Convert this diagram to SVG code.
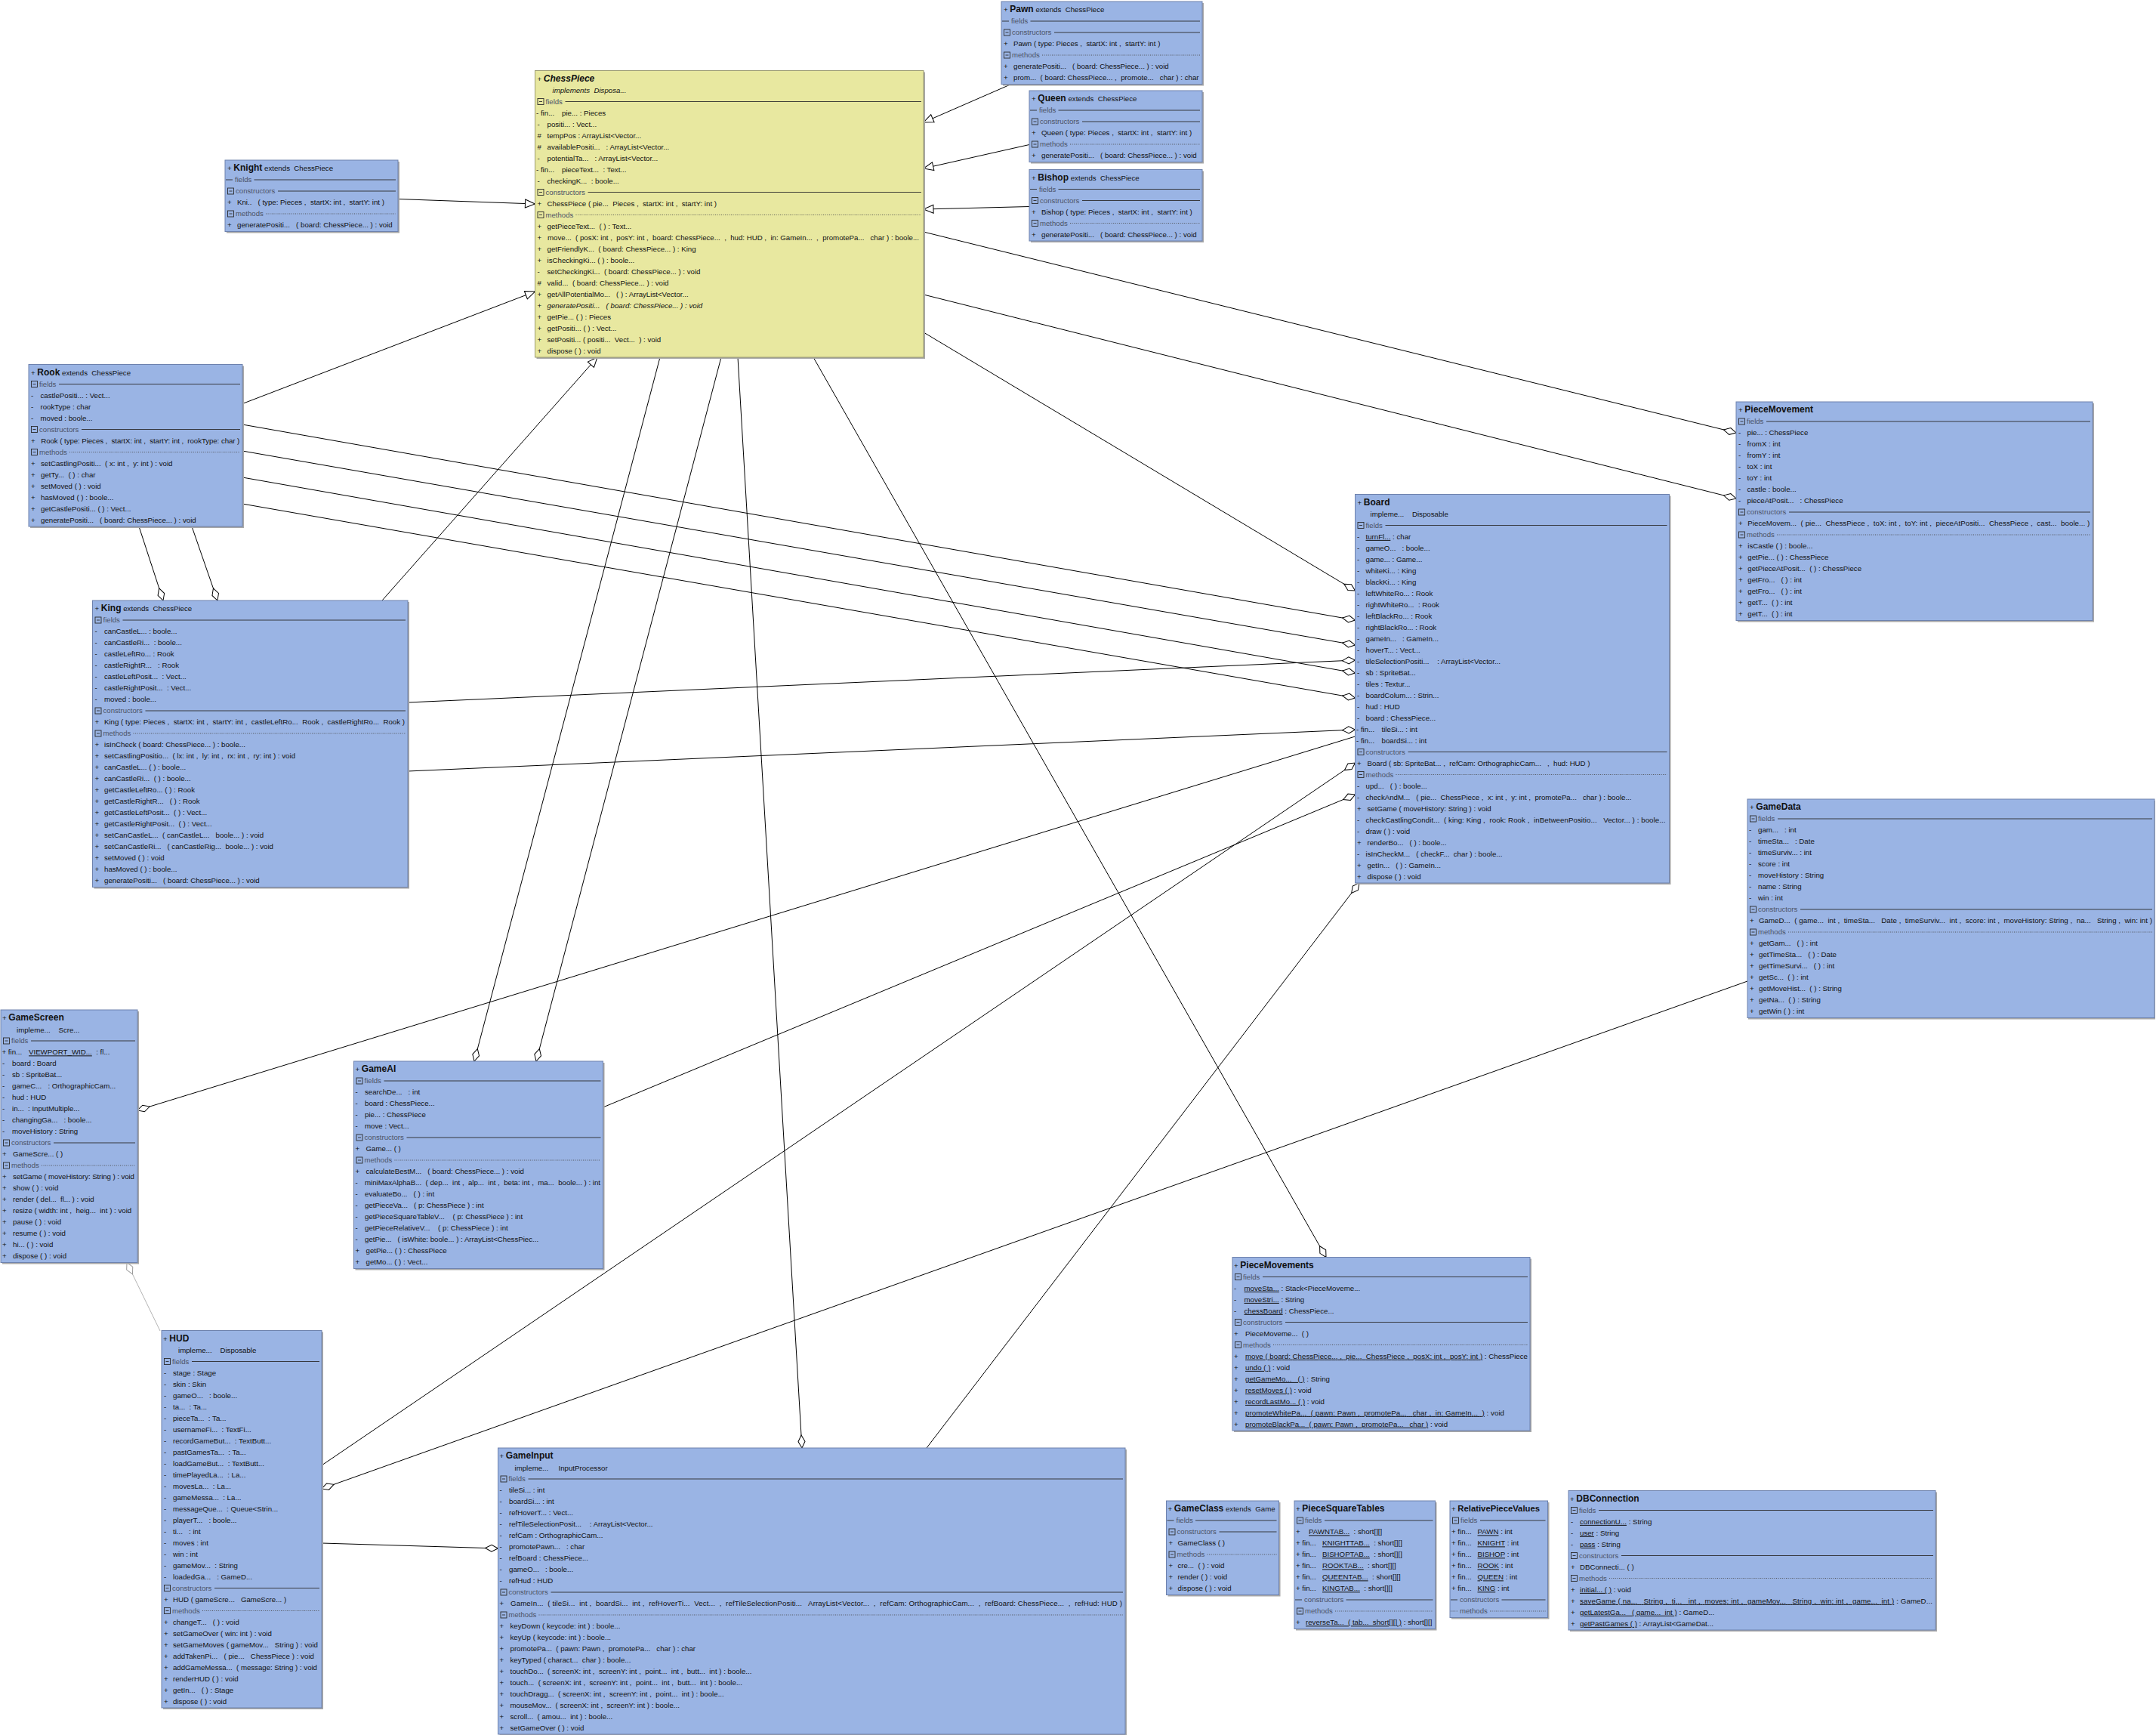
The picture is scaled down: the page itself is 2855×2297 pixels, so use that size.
<svg xmlns="http://www.w3.org/2000/svg" width="2855" height="2297" viewBox="0 0 2855 2297" xml:space="preserve">
<defs>
<style>
.t{font-family:"Liberation Sans",Arial,sans-serif;font-size:9.7px;fill:#111;white-space:pre}
.ttl{font-size:12px;font-weight:bold}
.hd{font-family:"Liberation Sans",Arial,sans-serif;font-size:9.6px;fill:#4c5366;white-space:pre}
.hl{stroke:#2b2b2b;stroke-width:0.9}
.dl{stroke:#4a4a4a;stroke-width:0.9;stroke-dasharray:1 1.6}
.ic{fill:none;stroke:#2b2b2b;stroke-width:0.9}
.box{fill:#9ab4e4;stroke:#6e82ad;stroke-width:1}
.boxy{fill:#e8e8a0;stroke:#9a9a70;stroke-width:1}
.sh{fill:#a8a8a8}
.u{text-decoration:underline}
.i{font-style:italic}
.c{fill:none;stroke:#000;stroke-width:1}
.cg{fill:none;stroke:#b4b4b4;stroke-width:1}
</style>
<g id="ico"><rect class="ic" x="3.5" y="-4" width="8" height="8"/><line class="hl" x1="5.5" y1="0" x2="9.5" y2="0"/></g>
<marker id="tri" markerUnits="userSpaceOnUse" markerWidth="16" markerHeight="14" refX="14" refY="7" orient="auto"><path d="M1,1.5 L14,7 L1,12.5 Z" fill="#fff" stroke="#000" stroke-width="1"/></marker>
<marker id="dia" markerUnits="userSpaceOnUse" markerWidth="20" markerHeight="12" refX="18" refY="6" orient="auto"><path d="M1,6 L9.5,1.5 L18,6 L9.5,10.5 Z" fill="#fff" stroke="#000" stroke-width="1"/></marker>
<marker id="diag" markerUnits="userSpaceOnUse" markerWidth="20" markerHeight="12" refX="18" refY="6" orient="auto"><path d="M1,6 L9.5,1.5 L18,6 L9.5,10.5 Z" fill="#fff" stroke="#999" stroke-width="1"/></marker>
</defs>
<rect width="2855" height="2297" fill="#fff"/>
<g id="connectors">
<line class="c" x1="1340" y1="111" x2="1223" y2="162" marker-end="url(#tri)"/>
<line class="c" x1="1363" y1="191.5" x2="1223" y2="223" marker-end="url(#tri)"/>
<line class="c" x1="1363" y1="273.5" x2="1223" y2="277" marker-end="url(#tri)"/>
<line class="c" x1="527" y1="263.5" x2="708.5" y2="270" marker-end="url(#tri)"/>
<line class="c" x1="321" y1="534.5" x2="708.5" y2="386" marker-end="url(#tri)"/>
<line class="c" x1="506" y1="795" x2="791" y2="473" marker-end="url(#tri)"/>
<line class="c" x1="1223" y1="307" x2="2299" y2="573" marker-end="url(#dia)"/>
<line class="c" x1="1223" y1="390" x2="2299" y2="660" marker-end="url(#dia)"/>
<line class="c" x1="1223" y1="440" x2="1794.5" y2="782" marker-end="url(#dia)"/>
<line class="c" x1="874" y1="473" x2="628" y2="1405" marker-end="url(#dia)"/>
<line class="c" x1="955" y1="473" x2="710" y2="1405" marker-end="url(#dia)"/>
<line class="c" x1="977" y1="473" x2="1062" y2="1917" marker-end="url(#dia)"/>
<line class="c" x1="1077" y1="473" x2="1756" y2="1664.5" marker-end="url(#dia)"/>
<line class="c" x1="321" y1="562" x2="1794.5" y2="821" marker-end="url(#dia)"/>
<line class="c" x1="321" y1="597" x2="1794.5" y2="854" marker-end="url(#dia)"/>
<line class="c" x1="321" y1="632" x2="1794.5" y2="891" marker-end="url(#dia)"/>
<line class="c" x1="321" y1="667" x2="1794.5" y2="924" marker-end="url(#dia)"/>
<line class="c" x1="540" y1="930" x2="1794.5" y2="874" marker-end="url(#dia)"/>
<line class="c" x1="540" y1="1021" x2="1794.5" y2="966" marker-end="url(#dia)"/>
<line class="c" x1="184" y1="697" x2="216" y2="795" marker-end="url(#dia)"/>
<line class="c" x1="254" y1="697" x2="288" y2="795" marker-end="url(#dia)"/>
<line class="c" x1="1794.5" y1="975" x2="182" y2="1470" marker-end="url(#dia)"/>
<line class="c" x1="798.5" y1="1466" x2="1794.5" y2="1052" marker-end="url(#dia)"/>
<line class="c" x1="426" y1="1940" x2="1794.5" y2="1010" marker-end="url(#dia)"/>
<line class="c" x1="1227" y1="1917" x2="1800" y2="1169" marker-end="url(#dia)"/>
<line class="c" x1="2314" y1="1299" x2="426" y2="1971" marker-end="url(#dia)"/>
<line class="c" x1="426" y1="2043" x2="659.5" y2="2050" marker-end="url(#dia)"/>
<line class="cg" x1="212" y1="1762" x2="168" y2="1671.5" marker-end="url(#diag)"/>
</g>

<g id="Pawn" transform="translate(1326,2)">
<rect class="sh" x="2" y="2" width="266" height="109.5"/><rect class="box" width="266" height="109.5"/>
<text class="t" x="3" y="14.3">+ <tspan class="ttl">Pawn</tspan> extends  ChessPiece</text>
<line class="hl" x1="1" y1="26" x2="10" y2="26"/><text class="hd" x="13" y="29.3">fields</text><line class="hl" x1="38.5" y1="26" x2="263" y2="26"/>
<use href="#ico" y="41"/><text class="hd" x="14" y="44.3">constructors</text><line class="hl" x1="70" y1="41" x2="263" y2="41"/>
<text class="t" x="3" y="59.4">+<tspan x="16">Pawn ( type: Pieces ,  startX: int ,  startY: int )</tspan></text>
<use href="#ico" y="71"/><text class="hd" x="14" y="74.3">methods</text><line class="dl" x1="54" y1="71" x2="263" y2="71"/>
<text class="t" x="3" y="89.4">+<tspan x="16">generatePositi...   ( board: ChessPiece... ) : void</tspan></text>
<text class="t" x="3" y="104.4">+<tspan x="16">prom...  ( board: ChessPiece... ,  promote...   char ) : char</tspan></text>
</g>

<g id="Queen" transform="translate(1363,120)">
<rect class="sh" x="2" y="2" width="229" height="94.5"/><rect class="box" width="229" height="94.5"/>
<text class="t" x="3" y="14.3">+ <tspan class="ttl">Queen</tspan> extends  ChessPiece</text>
<line class="hl" x1="1" y1="26" x2="10" y2="26"/><text class="hd" x="13" y="29.3">fields</text><line class="hl" x1="38.5" y1="26" x2="226" y2="26"/>
<use href="#ico" y="41"/><text class="hd" x="14" y="44.3">constructors</text><line class="hl" x1="70" y1="41" x2="226" y2="41"/>
<text class="t" x="3" y="59.4">+<tspan x="16">Queen ( type: Pieces ,  startX: int ,  startY: int )</tspan></text>
<use href="#ico" y="71"/><text class="hd" x="14" y="74.3">methods</text><line class="dl" x1="54" y1="71" x2="226" y2="71"/>
<text class="t" x="3" y="89.4">+<tspan x="16">generatePositi...   ( board: ChessPiece... ) : void</tspan></text>
</g>

<g id="Bishop" transform="translate(1363,224.5)">
<rect class="sh" x="2" y="2" width="229" height="94.5"/><rect class="box" width="229" height="94.5"/>
<text class="t" x="3" y="14.3">+ <tspan class="ttl">Bishop</tspan> extends  ChessPiece</text>
<line class="hl" x1="1" y1="26" x2="10" y2="26"/><text class="hd" x="13" y="29.3">fields</text><line class="hl" x1="38.5" y1="26" x2="226" y2="26"/>
<use href="#ico" y="41"/><text class="hd" x="14" y="44.3">constructors</text><line class="hl" x1="70" y1="41" x2="226" y2="41"/>
<text class="t" x="3" y="59.4">+<tspan x="16">Bishop ( type: Pieces ,  startX: int ,  startY: int )</tspan></text>
<use href="#ico" y="71"/><text class="hd" x="14" y="74.3">methods</text><line class="dl" x1="54" y1="71" x2="226" y2="71"/>
<text class="t" x="3" y="89.4">+<tspan x="16">generatePositi...   ( board: ChessPiece... ) : void</tspan></text>
</g>

<g id="Knight" transform="translate(298,212)">
<rect class="sh" x="2" y="2" width="229" height="94.5"/><rect class="box" width="229" height="94.5"/>
<text class="t" x="3" y="14.3">+ <tspan class="ttl">Knight</tspan> extends  ChessPiece</text>
<line class="hl" x1="1" y1="26" x2="10" y2="26"/><text class="hd" x="13" y="29.3">fields</text><line class="hl" x1="38.5" y1="26" x2="226" y2="26"/>
<use href="#ico" y="41"/><text class="hd" x="14" y="44.3">constructors</text><line class="hl" x1="70" y1="41" x2="226" y2="41"/>
<text class="t" x="3" y="59.4">+<tspan x="16">Kni..   ( type: Pieces ,  startX: int ,  startY: int )</tspan></text>
<use href="#ico" y="71"/><text class="hd" x="14" y="74.3">methods</text><line class="dl" x1="54" y1="71" x2="226" y2="71"/>
<text class="t" x="3" y="89.4">+<tspan x="16">generatePositi...   ( board: ChessPiece... ) : void</tspan></text>
</g>

<g id="ChessPiece" transform="translate(708.5,93.5)">
<rect class="sh" x="2" y="2" width="514.5" height="379.5"/><rect class="boxy" width="514.5" height="379.5"/>
<text class="t" x="3" y="14.3">+ <tspan class="ttl i">ChessPiece</tspan></text>
<text class="t i" x="23" y="29.7">implements  Disposa...</text>
<use href="#ico" y="41"/><text class="hd" x="14" y="44.3">fields</text><line class="hl" x1="40" y1="41" x2="511.5" y2="41"/>
<text class="t" x="1.5" y="59.4">- fin...<tspan x="35.5">pie... : Pieces</tspan></text>
<text class="t" x="3" y="74.4">-<tspan x="16">positi... : Vect...</tspan></text>
<text class="t" x="3" y="89.4">#<tspan x="16">tempPos : ArrayList&lt;Vector...</tspan></text>
<text class="t" x="3" y="104.4">#<tspan x="16">availablePositi...   : ArrayList&lt;Vector...</tspan></text>
<text class="t" x="3" y="119.4">-<tspan x="16">potentialTa...   : ArrayList&lt;Vector...</tspan></text>
<text class="t" x="1.5" y="134.4">- fin...<tspan x="35.5">pieceText...  : Text...</tspan></text>
<text class="t" x="3" y="149.4">-<tspan x="16">checkingK...  : boole...</tspan></text>
<use href="#ico" y="161"/><text class="hd" x="14" y="164.3">constructors</text><line class="hl" x1="70" y1="161" x2="511.5" y2="161"/>
<text class="t" x="3" y="179.4">+<tspan x="16">ChessPiece ( pie...  Pieces ,  startX: int ,  startY: int )</tspan></text>
<use href="#ico" y="191"/><text class="hd" x="14" y="194.3">methods</text><line class="dl" x1="54" y1="191" x2="511.5" y2="191"/>
<text class="t" x="3" y="209.4">+<tspan x="16">getPieceText...  ( ) : Text...</tspan></text>
<text class="t" x="3" y="224.4">+</text><text class="t" x="16.5" y="224.4" textLength="492">move...  ( posX: int ,  posY: int ,  board: ChessPiece...  ,  hud: HUD ,  in: GameIn...  ,  promotePa...   char ) : boole...</text>
<text class="t" x="3" y="239.4">+<tspan x="16">getFriendlyK...  ( board: ChessPiece... ) : King</tspan></text>
<text class="t" x="3" y="254.4">+<tspan x="16">isCheckingKi... ( ) : boole...</tspan></text>
<text class="t" x="3" y="269.4">-<tspan x="16">setCheckingKi...  ( board: ChessPiece... ) : void</tspan></text>
<text class="t" x="3" y="284.4">#<tspan x="16">valid...  ( board: ChessPiece... ) : void</tspan></text>
<text class="t" x="3" y="299.4">+<tspan x="16">getAllPotentialMo...   ( ) : ArrayList&lt;Vector...</tspan></text>
<text class="t" x="3" y="314.4">+<tspan x="16" class="i">generatePositi...   ( board: ChessPiece... ) : void</tspan></text>
<text class="t" x="3" y="329.4">+<tspan x="16">getPie... ( ) : Pieces</tspan></text>
<text class="t" x="3" y="344.4">+<tspan x="16">getPositi... ( ) : Vect...</tspan></text>
<text class="t" x="3" y="359.4">+<tspan x="16">setPositi... ( positi...  Vect...  ) : void</tspan></text>
<text class="t" x="3" y="374.4">+<tspan x="16">dispose ( ) : void</tspan></text>
</g>

<g id="Rook" transform="translate(38,482.5)">
<rect class="sh" x="2" y="2" width="283" height="214.5"/><rect class="box" width="283" height="214.5"/>
<text class="t" x="3" y="14.3">+ <tspan class="ttl">Rook</tspan> extends  ChessPiece</text>
<use href="#ico" y="26"/><text class="hd" x="14" y="29.3">fields</text><line class="hl" x1="40" y1="26" x2="280" y2="26"/>
<text class="t" x="3" y="44.4">-<tspan x="15.5">castlePositi... : Vect...</tspan></text>
<text class="t" x="3" y="59.4">-<tspan x="15.5">rookType : char</tspan></text>
<text class="t" x="3" y="74.4">-<tspan x="15.5">moved : boole...</tspan></text>
<use href="#ico" y="86"/><text class="hd" x="14" y="89.3">constructors</text><line class="hl" x1="70" y1="86" x2="280" y2="86"/>
<text class="t" x="3" y="104.4">+</text><text class="t" x="16.3" y="104.4" textLength="263">Rook ( type: Pieces ,  startX: int ,  startY: int ,  rookType: char )</text>
<use href="#ico" y="116"/><text class="hd" x="14" y="119.3">methods</text><line class="dl" x1="54" y1="116" x2="280" y2="116"/>
<text class="t" x="3" y="134.4">+<tspan x="16">setCastlingPositi...  ( x: int ,  y: int ) : void</tspan></text>
<text class="t" x="3" y="149.4">+<tspan x="16">getTy...  ( ) : char</tspan></text>
<text class="t" x="3" y="164.4">+<tspan x="16">setMoved ( ) : void</tspan></text>
<text class="t" x="3" y="179.4">+<tspan x="16">hasMoved ( ) : boole...</tspan></text>
<text class="t" x="3" y="194.4">+<tspan x="16">getCastlePositi... ( ) : Vect...</tspan></text>
<text class="t" x="3" y="209.4">+<tspan x="16">generatePositi...   ( board: ChessPiece... ) : void</tspan></text>
</g>

<g id="King" transform="translate(122.5,795)">
<rect class="sh" x="2" y="2" width="417.5" height="379.5"/><rect class="box" width="417.5" height="379.5"/>
<text class="t" x="3" y="14.3">+ <tspan class="ttl">King</tspan> extends  ChessPiece</text>
<use href="#ico" y="26"/><text class="hd" x="14" y="29.3">fields</text><line class="hl" x1="40" y1="26" x2="414.5" y2="26"/>
<text class="t" x="3" y="44.4">-<tspan x="15.5">canCastleL... : boole...</tspan></text>
<text class="t" x="3" y="59.4">-<tspan x="15.5">canCastleRi...  : boole...</tspan></text>
<text class="t" x="3" y="74.4">-<tspan x="15.5">castleLeftRo... : Rook</tspan></text>
<text class="t" x="3" y="89.4">-<tspan x="15.5">castleRightR...   : Rook</tspan></text>
<text class="t" x="3" y="104.4">-<tspan x="15.5">castleLeftPosit...  : Vect...</tspan></text>
<text class="t" x="3" y="119.4">-<tspan x="15.5">castleRightPosit...  : Vect...</tspan></text>
<text class="t" x="3" y="134.4">-<tspan x="15.5">moved : boole...</tspan></text>
<use href="#ico" y="146"/><text class="hd" x="14" y="149.3">constructors</text><line class="hl" x1="70" y1="146" x2="414.5" y2="146"/>
<text class="t" x="3" y="164.4">+</text><text class="t" x="15.5" y="164.4" textLength="398">King ( type: Pieces ,  startX: int ,  startY: int ,  castleLeftRo...  Rook ,  castleRightRo...  Rook )</text>
<use href="#ico" y="176"/><text class="hd" x="14" y="179.3">methods</text><line class="dl" x1="54" y1="176" x2="414.5" y2="176"/>
<text class="t" x="3" y="194.4">+<tspan x="15.5">isInCheck ( board: ChessPiece... ) : boole...</tspan></text>
<text class="t" x="3" y="209.4">+<tspan x="15.5">setCastlingPositio...  ( lx: int ,  ly: int ,  rx: int ,  ry: int ) : void</tspan></text>
<text class="t" x="3" y="224.4">+<tspan x="15.5">canCastleL... ( ) : boole...</tspan></text>
<text class="t" x="3" y="239.4">+<tspan x="15.5">canCastleRi...  ( ) : boole...</tspan></text>
<text class="t" x="3" y="254.4">+<tspan x="15.5">getCastleLeftRo... ( ) : Rook</tspan></text>
<text class="t" x="3" y="269.4">+<tspan x="15.5">getCastleRightR...   ( ) : Rook</tspan></text>
<text class="t" x="3" y="284.4">+<tspan x="15.5">getCastleLeftPosit...  ( ) : Vect...</tspan></text>
<text class="t" x="3" y="299.4">+<tspan x="15.5">getCastleRightPosit...  ( ) : Vect...</tspan></text>
<text class="t" x="3" y="314.4">+<tspan x="15.5">setCanCastleL...  ( canCastleL...   boole... ) : void</tspan></text>
<text class="t" x="3" y="329.4">+<tspan x="15.5">setCanCastleRi...   ( canCastleRig...  boole... ) : void</tspan></text>
<text class="t" x="3" y="344.4">+<tspan x="15.5">setMoved ( ) : void</tspan></text>
<text class="t" x="3" y="359.4">+<tspan x="15.5">hasMoved ( ) : boole...</tspan></text>
<text class="t" x="3" y="374.4">+<tspan x="15.5">generatePositi...   ( board: ChessPiece... ) : void</tspan></text>
</g>

<g id="PieceMovement" transform="translate(2299,532)">
<rect class="sh" x="2" y="2" width="472" height="289.5"/><rect class="box" width="472" height="289.5"/>
<text class="t" x="3" y="14.3">+ <tspan class="ttl">PieceMovement</tspan></text>
<use href="#ico" y="26"/><text class="hd" x="14" y="29.3">fields</text><line class="hl" x1="40" y1="26" x2="469" y2="26"/>
<text class="t" x="3" y="44.4">-<tspan x="14.5">pie... : ChessPiece</tspan></text>
<text class="t" x="3" y="59.4">-<tspan x="14.5">fromX : int</tspan></text>
<text class="t" x="3" y="74.4">-<tspan x="14.5">fromY : int</tspan></text>
<text class="t" x="3" y="89.4">-<tspan x="14.5">toX : int</tspan></text>
<text class="t" x="3" y="104.4">-<tspan x="14.5">toY : int</tspan></text>
<text class="t" x="3" y="119.4">-<tspan x="14.5">castle : boole...</tspan></text>
<text class="t" x="3" y="134.4">-<tspan x="14.5">pieceAtPosit...   : ChessPiece</tspan></text>
<use href="#ico" y="146"/><text class="hd" x="14" y="149.3">constructors</text><line class="hl" x1="70" y1="146" x2="469" y2="146"/>
<text class="t" x="3" y="164.4">+</text><text class="t" x="15.3" y="164.4" textLength="453">PieceMovem...  ( pie...  ChessPiece ,  toX: int ,  toY: int ,  pieceAtPositi...  ChessPiece ,  cast...  boole... )</text>
<use href="#ico" y="176"/><text class="hd" x="14" y="179.3">methods</text><line class="dl" x1="54" y1="176" x2="469" y2="176"/>
<text class="t" x="3" y="194.4">+<tspan x="15.3">isCastle ( ) : boole...</tspan></text>
<text class="t" x="3" y="209.4">+<tspan x="15.3">getPie... ( ) : ChessPiece</tspan></text>
<text class="t" x="3" y="224.4">+<tspan x="15.3">getPieceAtPosit...  ( ) : ChessPiece</tspan></text>
<text class="t" x="3" y="239.4">+<tspan x="15.3">getFro...   ( ) : int</tspan></text>
<text class="t" x="3" y="254.4">+<tspan x="15.3">getFro...   ( ) : int</tspan></text>
<text class="t" x="3" y="269.4">+<tspan x="15.3">getT...  ( ) : int</tspan></text>
<text class="t" x="3" y="284.4">+<tspan x="15.3">getT...  ( ) : int</tspan></text>
</g>

<g id="Board" transform="translate(1794.5,654.5)">
<rect class="sh" x="2" y="2" width="416" height="514.5"/><rect class="box" width="416" height="514.5"/>
<text class="t" x="3" y="14.3">+ <tspan class="ttl">Board</tspan></text>
<text class="t" x="20" y="29.7">impleme...    Disposable</text>
<use href="#ico" y="41"/><text class="hd" x="14" y="44.3">fields</text><line class="hl" x1="40" y1="41" x2="413" y2="41"/>
<text class="t" x="2.5" y="59.4">-<tspan x="14"><tspan class="u">turnFl...</tspan> : char</tspan></text>
<text class="t" x="2.5" y="74.4">-<tspan x="14">gameO...   : boole...</tspan></text>
<text class="t" x="2.5" y="89.4">-<tspan x="14">game... : Game...</tspan></text>
<text class="t" x="2.5" y="104.4">-<tspan x="14">whiteKi... : King</tspan></text>
<text class="t" x="2.5" y="119.4">-<tspan x="14">blackKi... : King</tspan></text>
<text class="t" x="2.5" y="134.4">-<tspan x="14">leftWhiteRo... : Rook</tspan></text>
<text class="t" x="2.5" y="149.4">-<tspan x="14">rightWhiteRo...  : Rook</tspan></text>
<text class="t" x="2.5" y="164.4">-<tspan x="14">leftBlackRo... : Rook</tspan></text>
<text class="t" x="2.5" y="179.4">-<tspan x="14">rightBlackRo... : Rook</tspan></text>
<text class="t" x="2.5" y="194.4">-<tspan x="14">gameIn...   : GameIn...</tspan></text>
<text class="t" x="2.5" y="209.4">-<tspan x="14">hoverT... : Vect...</tspan></text>
<text class="t" x="2.5" y="224.4">-<tspan x="14">tileSelectionPositi...    : ArrayList&lt;Vector...</tspan></text>
<text class="t" x="2.5" y="239.4">-<tspan x="14">sb : SpriteBat...</tspan></text>
<text class="t" x="2.5" y="254.4">-<tspan x="14">tiles : Textur...</tspan></text>
<text class="t" x="2.5" y="269.4">-<tspan x="14">boardColum... : Strin...</tspan></text>
<text class="t" x="2.5" y="284.4">-<tspan x="14">hud : HUD</tspan></text>
<text class="t" x="2.5" y="299.4">-<tspan x="14">board : ChessPiece...</tspan></text>
<text class="t" x="1.5" y="314.4">- fin...<tspan x="35">tileSi... : int</tspan></text>
<text class="t" x="1.5" y="329.4">- fin...<tspan x="35">boardSi... : int</tspan></text>
<use href="#ico" y="341"/><text class="hd" x="14" y="344.3">constructors</text><line class="hl" x1="70" y1="341" x2="413" y2="341"/>
<text class="t" x="2.5" y="359.4">+<tspan x="16">Board ( sb: SpriteBat... ,  refCam: OrthographicCam...   ,  hud: HUD )</tspan></text>
<use href="#ico" y="371"/><text class="hd" x="14" y="374.3">methods</text><line class="dl" x1="54" y1="371" x2="413" y2="371"/>
<text class="t" x="2.5" y="389.4">-<tspan x="14">upd...   ( ) : boole...</tspan></text>
<text class="t" x="2.5" y="404.4">-</text><text class="t" x="14" y="404.4" textLength="352">checkAndM...   ( pie...  ChessPiece ,  x: int ,  y: int ,  promotePa...   char ) : boole...</text>
<text class="t" x="2.5" y="419.4">+<tspan x="16">setGame ( moveHistory: String ) : void</tspan></text>
<text class="t" x="2.5" y="434.4">-</text><text class="t" x="14" y="434.4" textLength="397">checkCastlingCondit...  ( king: King ,  rook: Rook ,  inBetweenPositio...   Vector... ) : boole...</text>
<text class="t" x="2.5" y="449.4">-<tspan x="14">draw ( ) : void</tspan></text>
<text class="t" x="2.5" y="464.4">+<tspan x="16">renderBo...   ( ) : boole...</tspan></text>
<text class="t" x="2.5" y="479.4">-<tspan x="14">isInCheckM...   ( checkF...  char ) : boole...</tspan></text>
<text class="t" x="2.5" y="494.4">+<tspan x="16">getIn...   ( ) : GameIn...</tspan></text>
<text class="t" x="2.5" y="509.4">+<tspan x="16">dispose ( ) : void</tspan></text>
</g>

<g id="GameData" transform="translate(2314,1058)">
<rect class="sh" x="1" y="2" width="539" height="289.5"/><rect class="box" width="539" height="289.5"/>
<text class="t" x="3" y="14.3">+ <tspan class="ttl">GameData</tspan></text>
<use href="#ico" y="26"/><text class="hd" x="14" y="29.3">fields</text><line class="hl" x1="40" y1="26" x2="536" y2="26"/>
<text class="t" x="2" y="44.4">-<tspan x="14">gam...   : int</tspan></text>
<text class="t" x="2" y="59.4">-<tspan x="14">timeSta...   : Date</tspan></text>
<text class="t" x="2" y="74.4">-<tspan x="14">timeSurviv... : int</tspan></text>
<text class="t" x="2" y="89.4">-<tspan x="14">score : int</tspan></text>
<text class="t" x="2" y="104.4">-<tspan x="14">moveHistory : String</tspan></text>
<text class="t" x="2" y="119.4">-<tspan x="14">name : String</tspan></text>
<text class="t" x="2" y="134.4">-<tspan x="14">win : int</tspan></text>
<use href="#ico" y="146"/><text class="hd" x="14" y="149.3">constructors</text><line class="hl" x1="70" y1="146" x2="536" y2="146"/>
<text class="t" x="3" y="164.4">+</text><text class="t" x="15" y="164.4" textLength="521">GameD...  ( game...  int ,  timeSta...   Date ,  timeSurviv...  int ,  score: int ,  moveHistory: String ,  na...   String ,  win: int )</text>
<use href="#ico" y="176"/><text class="hd" x="14" y="179.3">methods</text><line class="dl" x1="54" y1="176" x2="536" y2="176"/>
<text class="t" x="3" y="194.4">+<tspan x="15">getGam...   ( ) : int</tspan></text>
<text class="t" x="3" y="209.4">+<tspan x="15">getTimeSta...   ( ) : Date</tspan></text>
<text class="t" x="3" y="224.4">+<tspan x="15">getTimeSurvi...   ( ) : int</tspan></text>
<text class="t" x="3" y="239.4">+<tspan x="15">getSc...  ( ) : int</tspan></text>
<text class="t" x="3" y="254.4">+<tspan x="15">getMoveHist...  ( ) : String</tspan></text>
<text class="t" x="3" y="269.4">+<tspan x="15">getNa...  ( ) : String</tspan></text>
<text class="t" x="3" y="284.4">+<tspan x="15">getWin ( ) : int</tspan></text>
</g>

<g id="GameScreen" transform="translate(1,1337)">
<rect class="sh" x="2" y="2" width="181" height="334.5"/><rect class="box" width="181" height="334.5"/>
<text class="t" x="2" y="14.3">+ <tspan class="ttl">GameScreen</tspan></text>
<text class="t" x="21" y="29.7">impleme...    Scre...</text>
<use href="#ico" y="41"/><text class="hd" x="14" y="44.3">fields</text><line class="hl" x1="40" y1="41" x2="178" y2="41"/>
<text class="t" x="1.5" y="59.4">+ fin...<tspan x="37"><tspan class="u">VIEWPORT_WID...</tspan>  : fl...</tspan></text>
<text class="t" x="2" y="74.4">-<tspan x="15">board : Board</tspan></text>
<text class="t" x="2" y="89.4">-<tspan x="15">sb : SpriteBat...</tspan></text>
<text class="t" x="2" y="104.4">-<tspan x="15">gameC...   : OrthographicCam...</tspan></text>
<text class="t" x="2" y="119.4">-<tspan x="15">hud : HUD</tspan></text>
<text class="t" x="2" y="134.4">-<tspan x="15">in...  : InputMultiple...</tspan></text>
<text class="t" x="2" y="149.4">-<tspan x="15">changingGa...   : boole...</tspan></text>
<text class="t" x="2" y="164.4">-<tspan x="15">moveHistory : String</tspan></text>
<use href="#ico" y="176"/><text class="hd" x="14" y="179.3">constructors</text><line class="hl" x1="70" y1="176" x2="178" y2="176"/>
<text class="t" x="2" y="194.4">+<tspan x="16">GameScre... ( )</tspan></text>
<use href="#ico" y="206"/><text class="hd" x="14" y="209.3">methods</text><line class="dl" x1="54" y1="206" x2="178" y2="206"/>
<text class="t" x="2" y="224.4">+</text><text class="t" x="16" y="224.4" textLength="161">setGame ( moveHistory: String ) : void</text>
<text class="t" x="2" y="239.4">+<tspan x="16">show ( ) : void</tspan></text>
<text class="t" x="2" y="254.4">+<tspan x="16">render ( del...  fl... ) : void</tspan></text>
<text class="t" x="2" y="269.4">+<tspan x="16">resize ( width: int ,  heig...  int ) : void</tspan></text>
<text class="t" x="2" y="284.4">+<tspan x="16">pause ( ) : void</tspan></text>
<text class="t" x="2" y="299.4">+<tspan x="16">resume ( ) : void</tspan></text>
<text class="t" x="2" y="314.4">+<tspan x="16">hi... ( ) : void</tspan></text>
<text class="t" x="2" y="329.4">+<tspan x="16">dispose ( ) : void</tspan></text>
</g>

<g id="GameAI" transform="translate(468.5,1405)">
<rect class="sh" x="2" y="2" width="330" height="274.5"/><rect class="box" width="330" height="274.5"/>
<text class="t" x="2" y="14.3">+ <tspan class="ttl">GameAI</tspan></text>
<use href="#ico" y="26"/><text class="hd" x="14" y="29.3">fields</text><line class="hl" x1="40" y1="26" x2="327" y2="26"/>
<text class="t" x="2" y="44.4">-<tspan x="14.5">searchDe...   : int</tspan></text>
<text class="t" x="2" y="59.4">-<tspan x="14.5">board : ChessPiece...</tspan></text>
<text class="t" x="2" y="74.4">-<tspan x="14.5">pie... : ChessPiece</tspan></text>
<text class="t" x="2" y="89.4">-<tspan x="14.5">move : Vect...</tspan></text>
<use href="#ico" y="101"/><text class="hd" x="14" y="104.3">constructors</text><line class="hl" x1="70" y1="101" x2="327" y2="101"/>
<text class="t" x="2" y="119.4">+<tspan x="16">Game... ( )</tspan></text>
<use href="#ico" y="131"/><text class="hd" x="14" y="134.3">methods</text><line class="dl" x1="54" y1="131" x2="327" y2="131"/>
<text class="t" x="2" y="149.4">+<tspan x="16">calculateBestM...   ( board: ChessPiece... ) : void</tspan></text>
<text class="t" x="2" y="164.4">-</text><text class="t" x="14.5" y="164.4" textLength="312">miniMaxAlphaB...  ( dep...  int ,  alp...  int ,  beta: int ,  ma...  boole... ) : int</text>
<text class="t" x="2" y="179.4">-<tspan x="14.5">evaluateBo...   ( ) : int</tspan></text>
<text class="t" x="2" y="194.4">-<tspan x="14.5">getPieceVa...   ( p: ChessPiece ) : int</tspan></text>
<text class="t" x="2" y="209.4">-<tspan x="14.5">getPieceSquareTableV...    ( p: ChessPiece ) : int</tspan></text>
<text class="t" x="2" y="224.4">-<tspan x="14.5">getPieceRelativeV...    ( p: ChessPiece ) : int</tspan></text>
<text class="t" x="2" y="239.4">-<tspan x="14.5">getPie...   ( isWhite: boole... ) : ArrayList&lt;ChessPiec...</tspan></text>
<text class="t" x="2" y="254.4">+<tspan x="16">getPie... ( ) : ChessPiece</tspan></text>
<text class="t" x="2" y="269.4">+<tspan x="16">getMo... ( ) : Vect...</tspan></text>
</g>

<g id="PieceMovements" transform="translate(1632,1664.5)">
<rect class="sh" x="2" y="2" width="394" height="229.5"/><rect class="box" width="394" height="229.5"/>
<text class="t" x="2" y="14.3">+ <tspan class="ttl">PieceMovements</tspan></text>
<use href="#ico" y="26"/><text class="hd" x="14" y="29.3">fields</text><line class="hl" x1="40" y1="26" x2="391" y2="26"/>
<text class="t" x="2" y="44.4">-<tspan x="15.5"><tspan class="u">moveSta...</tspan> : Stack&lt;PieceMoveme...</tspan></text>
<text class="t" x="2" y="59.4">-<tspan x="15.5"><tspan class="u">moveStri...</tspan> : String</tspan></text>
<text class="t" x="2" y="74.4">-<tspan x="15.5"><tspan class="u">chessBoard</tspan> : ChessPiece...</tspan></text>
<use href="#ico" y="86"/><text class="hd" x="14" y="89.3">constructors</text><line class="hl" x1="70" y1="86" x2="391" y2="86"/>
<text class="t" x="2" y="104.4">+<tspan x="17">PieceMoveme...  ( )</tspan></text>
<use href="#ico" y="116"/><text class="hd" x="14" y="119.3">methods</text><line class="dl" x1="54" y1="116" x2="391" y2="116"/>
<text class="t" x="2" y="134.4">+</text><text class="t" x="17" y="134.4" textLength="374"><tspan class="u">move ( board: ChessPiece... ,  pie...  ChessPiece ,  posX: int ,  posY: int )</tspan> : ChessPiece</text>
<text class="t" x="2" y="149.4">+<tspan x="17"><tspan class="u">undo ( )</tspan> : void</tspan></text>
<text class="t" x="2" y="164.4">+<tspan x="17"><tspan class="u">getGameMo...   ( )</tspan> : String</tspan></text>
<text class="t" x="2" y="179.4">+<tspan x="17"><tspan class="u">resetMoves ( )</tspan> : void</tspan></text>
<text class="t" x="2" y="194.4">+<tspan x="17"><tspan class="u">recordLastMo... ( )</tspan> : void</tspan></text>
<text class="t" x="2" y="209.4">+</text><text class="t" x="17" y="209.4" textLength="343"><tspan class="u">promoteWhitePa...  ( pawn: Pawn ,  promotePa...   char ,  in: GameIn...  )</tspan> : void</text>
<text class="t" x="2" y="224.4">+<tspan x="17"><tspan class="u">promoteBlackPa...  ( pawn: Pawn ,  promotePa...   char )</tspan> : void</tspan></text>
</g>

<g id="HUD" transform="translate(214,1761.5)">
<rect class="sh" x="2" y="2" width="212" height="499.5"/><rect class="box" width="212" height="499.5"/>
<text class="t" x="2" y="14.3">+ <tspan class="ttl">HUD</tspan></text>
<text class="t" x="22" y="29.7">impleme...    Disposable</text>
<use href="#ico" y="41"/><text class="hd" x="14" y="44.3">fields</text><line class="hl" x1="40" y1="41" x2="209" y2="41"/>
<text class="t" x="3" y="59.4">-<tspan x="15">stage : Stage</tspan></text>
<text class="t" x="3" y="74.4">-<tspan x="15">skin : Skin</tspan></text>
<text class="t" x="3" y="89.4">-<tspan x="15">gameO...   : boole...</tspan></text>
<text class="t" x="3" y="104.4">-<tspan x="15">ta...  : Ta...</tspan></text>
<text class="t" x="3" y="119.4">-<tspan x="15">pieceTa...  : Ta...</tspan></text>
<text class="t" x="3" y="134.4">-<tspan x="15">usernameFi...  : TextFi...</tspan></text>
<text class="t" x="3" y="149.4">-<tspan x="15">recordGameBut...  : TextButt...</tspan></text>
<text class="t" x="3" y="164.4">-<tspan x="15">pastGamesTa...  : Ta...</tspan></text>
<text class="t" x="3" y="179.4">-<tspan x="15">loadGameBut...  : TextButt...</tspan></text>
<text class="t" x="3" y="194.4">-<tspan x="15">timePlayedLa...  : La...</tspan></text>
<text class="t" x="3" y="209.4">-<tspan x="15">movesLa...  : La...</tspan></text>
<text class="t" x="3" y="224.4">-<tspan x="15">gameMessa...  : La...</tspan></text>
<text class="t" x="3" y="239.4">-<tspan x="15">messageQue...  : Queue&lt;Strin...</tspan></text>
<text class="t" x="3" y="254.4">-<tspan x="15">playerT...   : boole...</tspan></text>
<text class="t" x="3" y="269.4">-<tspan x="15">ti...   : int</tspan></text>
<text class="t" x="3" y="284.4">-<tspan x="15">moves : int</tspan></text>
<text class="t" x="3" y="299.4">-<tspan x="15">win : int</tspan></text>
<text class="t" x="3" y="314.4">-<tspan x="15">gameMov...  : String</tspan></text>
<text class="t" x="3" y="329.4">-<tspan x="15">loadedGa...   : GameD...</tspan></text>
<use href="#ico" y="341"/><text class="hd" x="14" y="344.3">constructors</text><line class="hl" x1="70" y1="341" x2="209" y2="341"/>
<text class="t" x="3" y="359.4">+<tspan x="15">HUD ( gameScre...   GameScre... )</tspan></text>
<use href="#ico" y="371"/><text class="hd" x="14" y="374.3">methods</text><line class="dl" x1="54" y1="371" x2="209" y2="371"/>
<text class="t" x="3" y="389.4">+<tspan x="15">changeT...   ( ) : void</tspan></text>
<text class="t" x="3" y="404.4">+<tspan x="15">setGameOver ( win: int ) : void</tspan></text>
<text class="t" x="3" y="419.4">+</text><text class="t" x="15" y="419.4" textLength="192">setGameMoves ( gameMov...   String ) : void</text>
<text class="t" x="3" y="434.4">+</text><text class="t" x="15" y="434.4" textLength="187">addTakenPi...   ( pie...   ChessPiece ) : void</text>
<text class="t" x="3" y="449.4">+</text><text class="t" x="15" y="449.4" textLength="191">addGameMessa...  ( message: String ) : void</text>
<text class="t" x="3" y="464.4">+<tspan x="15">renderHUD ( ) : void</tspan></text>
<text class="t" x="3" y="479.4">+<tspan x="15">getIn...   ( ) : Stage</tspan></text>
<text class="t" x="3" y="494.4">+<tspan x="15">dispose ( ) : void</tspan></text>
</g>

<g id="GameInput" transform="translate(659.5,1917)">
<rect class="sh" x="2" y="2" width="830.5" height="379"/><rect class="box" width="830.5" height="379"/>
<text class="t" x="2" y="14.3">+ <tspan class="ttl">GameInput</tspan></text>
<text class="t" x="22" y="29.7">impleme...<tspan x="80">InputProcessor</tspan></text>
<use href="#ico" y="41"/><text class="hd" x="14" y="44.3">fields</text><line class="hl" x1="40" y1="41" x2="827.5" y2="41"/>
<text class="t" x="2" y="59.4">-<tspan x="14.5">tileSi... : int</tspan></text>
<text class="t" x="2" y="74.4">-<tspan x="14.5">boardSi... : int</tspan></text>
<text class="t" x="2" y="89.4">-<tspan x="14.5">refHoverT... : Vect...</tspan></text>
<text class="t" x="2" y="104.4">-<tspan x="14.5">refTileSelectionPosit...    : ArrayList&lt;Vector...</tspan></text>
<text class="t" x="2" y="119.4">-<tspan x="14.5">refCam : OrthographicCam...</tspan></text>
<text class="t" x="2" y="134.4">-<tspan x="14.5">promotePawn...   : char</tspan></text>
<text class="t" x="2" y="149.4">-<tspan x="14.5">refBoard : ChessPiece...</tspan></text>
<text class="t" x="2" y="164.4">-<tspan x="14.5">gameO...   : boole...</tspan></text>
<text class="t" x="2" y="179.4">-<tspan x="14.5">refHud : HUD</tspan></text>
<use href="#ico" y="191"/><text class="hd" x="14" y="194.3">constructors</text><line class="hl" x1="70" y1="191" x2="827.5" y2="191"/>
<text class="t" x="2" y="209.4">+</text><text class="t" x="16.5" y="209.4" textLength="810">GameIn...  ( tileSi...  int ,  boardSi...  int ,  refHoverTi...  Vect...  ,  refTileSelectionPositi...   ArrayList&lt;Vector...  ,  refCam: OrthographicCam...  ,  refBoard: ChessPiece...  ,  refHud: HUD )</text>
<use href="#ico" y="221"/><text class="hd" x="14" y="224.3">methods</text><line class="dl" x1="54" y1="221" x2="827.5" y2="221"/>
<text class="t" x="2" y="239.4">+<tspan x="16">keyDown ( keycode: int ) : boole...</tspan></text>
<text class="t" x="2" y="254.4">+<tspan x="16">keyUp ( keycode: int ) : boole...</tspan></text>
<text class="t" x="2" y="269.4">+<tspan x="16">promotePa...  ( pawn: Pawn ,  promotePa...   char ) : char</tspan></text>
<text class="t" x="2" y="284.4">+<tspan x="16">keyTyped ( charact...  char ) : boole...</tspan></text>
<text class="t" x="2" y="299.4">+<tspan x="16">touchDo...  ( screenX: int ,  screenY: int ,  point...  int ,  butt...  int ) : boole...</tspan></text>
<text class="t" x="2" y="314.4">+<tspan x="16">touch...  ( screenX: int ,  screenY: int ,  point...  int ,  butt...  int ) : boole...</tspan></text>
<text class="t" x="2" y="329.4">+<tspan x="16">touchDragg...  ( screenX: int ,  screenY: int ,  point...  int ) : boole...</tspan></text>
<text class="t" x="2" y="344.4">+<tspan x="16">mouseMov...  ( screenX: int ,  screenY: int ) : boole...</tspan></text>
<text class="t" x="2" y="359.4">+<tspan x="16">scroll...  ( amou...  int ) : boole...</tspan></text>
<text class="t" x="2" y="374.4">+<tspan x="16">setGameOver ( ) : void</tspan></text>
</g>

<g id="GameClass" transform="translate(1544.5,1987)">
<rect class="sh" x="2" y="2" width="149" height="124.5"/><rect class="box" width="149" height="124.5"/>
<text class="t" x="2" y="14.3">+ <tspan class="ttl">GameClass</tspan> extends  Game</text>
<line class="hl" x1="1" y1="26" x2="10" y2="26"/><text class="hd" x="13" y="29.3">fields</text><line class="hl" x1="38.5" y1="26" x2="146" y2="26"/>
<use href="#ico" y="41"/><text class="hd" x="14" y="44.3">constructors</text><line class="hl" x1="70" y1="41" x2="146" y2="41"/>
<text class="t" x="3" y="59.4">+<tspan x="15">GameClass ( )</tspan></text>
<use href="#ico" y="71"/><text class="hd" x="14" y="74.3">methods</text><line class="dl" x1="54" y1="71" x2="146" y2="71"/>
<text class="t" x="3" y="89.4">+<tspan x="15">cre...  ( ) : void</tspan></text>
<text class="t" x="3" y="104.4">+<tspan x="15">render ( ) : void</tspan></text>
<text class="t" x="3" y="119.4">+<tspan x="15">dispose ( ) : void</tspan></text>
</g>

<g id="PieceSquareTables" transform="translate(1714,1987)">
<rect class="sh" x="2" y="2" width="186.5" height="169.5"/><rect class="box" width="186.5" height="169.5"/>
<text class="t" x="2" y="14.3">+ <tspan class="ttl">PieceSquareTables</tspan></text>
<use href="#ico" y="26"/><text class="hd" x="14" y="29.3">fields</text><line class="hl" x1="40" y1="26" x2="183.5" y2="26"/>
<text class="t" x="2" y="44.4">+<tspan x="19"><tspan class="u">PAWNTAB...</tspan>  : short[][]</tspan></text>
<text class="t" x="2" y="59.4">+ fin...<tspan x="37"><tspan class="u">KNIGHTTAB...</tspan>  : short[][]</tspan></text>
<text class="t" x="2" y="74.4">+ fin...<tspan x="37"><tspan class="u">BISHOPTAB...</tspan>  : short[][]</tspan></text>
<text class="t" x="2" y="89.4">+ fin...<tspan x="37"><tspan class="u">ROOKTAB...</tspan>  : short[][]</tspan></text>
<text class="t" x="2" y="104.4">+ fin...<tspan x="37"><tspan class="u">QUEENTAB...</tspan>  : short[][]</tspan></text>
<text class="t" x="2" y="119.4">+ fin...<tspan x="37"><tspan class="u">KINGTAB...</tspan>  : short[][]</tspan></text>
<line class="hl" x1="1" y1="131" x2="10" y2="131"/><text class="hd" x="13" y="134.3">constructors</text><line class="hl" x1="68.5" y1="131" x2="183.5" y2="131"/>
<use href="#ico" y="146"/><text class="hd" x="14" y="149.3">methods</text><line class="dl" x1="54" y1="146" x2="183.5" y2="146"/>
<text class="t" x="2" y="164.4">+<tspan x="15"><tspan class="u">reverseTa...  ( tab...  short[][] )</tspan> : short[][]</tspan></text>
</g>

<g id="RelativePieceValues" transform="translate(1920,1987)">
<rect class="sh" x="2" y="2" width="129.5" height="154.5"/><rect class="box" width="129.5" height="154.5"/>
<text class="t" x="2" y="14.3">+ <tspan class="ttl" style="font-size:11.3px">RelativePieceValues</tspan></text>
<use href="#ico" y="26"/><text class="hd" x="14" y="29.3">fields</text><line class="hl" x1="40" y1="26" x2="126.5" y2="26"/>
<text class="t" x="2" y="44.4">+ fin...<tspan x="36.5"><tspan class="u">PAWN</tspan> : int</tspan></text>
<text class="t" x="2" y="59.4">+ fin...<tspan x="36.5"><tspan class="u">KNIGHT</tspan> : int</tspan></text>
<text class="t" x="2" y="74.4">+ fin...<tspan x="36.5"><tspan class="u">BISHOP</tspan> : int</tspan></text>
<text class="t" x="2" y="89.4">+ fin...<tspan x="36.5"><tspan class="u">ROOK</tspan> : int</tspan></text>
<text class="t" x="2" y="104.4">+ fin...<tspan x="36.5"><tspan class="u">QUEEN</tspan> : int</tspan></text>
<text class="t" x="2" y="119.4">+ fin...<tspan x="36.5"><tspan class="u">KING</tspan> : int</tspan></text>
<line class="hl" x1="1" y1="131" x2="10" y2="131"/><text class="hd" x="13" y="134.3">constructors</text><line class="hl" x1="68.5" y1="131" x2="126.5" y2="131"/>
<line class="dl" x1="1" y1="146" x2="10" y2="146"/><text class="hd" x="13" y="149.3">methods</text><line class="dl" x1="53" y1="146" x2="126.5" y2="146"/>
</g>

<g id="DBConnection" transform="translate(2077,1973.5)">
<rect class="sh" x="2" y="2" width="486" height="184.5"/><rect class="box" width="486" height="184.5"/>
<text class="t" x="2" y="14.3">+ <tspan class="ttl">DBConnection</tspan></text>
<use href="#ico" y="26"/><text class="hd" x="14" y="29.3">fields</text><line class="hl" x1="40" y1="26" x2="483" y2="26"/>
<text class="t" x="3" y="44.4">-<tspan x="15"><tspan class="u">connectionU...</tspan> : String</tspan></text>
<text class="t" x="3" y="59.4">-<tspan x="15"><tspan class="u">user</tspan> : String</tspan></text>
<text class="t" x="3" y="74.4">-<tspan x="15"><tspan class="u">pass</tspan> : String</tspan></text>
<use href="#ico" y="86"/><text class="hd" x="14" y="89.3">constructors</text><line class="hl" x1="70" y1="86" x2="483" y2="86"/>
<text class="t" x="3" y="104.4">+<tspan x="15">DBConnecti... ( )</tspan></text>
<use href="#ico" y="116"/><text class="hd" x="14" y="119.3">methods</text><line class="dl" x1="54" y1="116" x2="483" y2="116"/>
<text class="t" x="3" y="134.4">+<tspan x="15"><tspan class="u">initial... ( )</tspan> : void</tspan></text>
<text class="t" x="3" y="149.4">+</text><text class="t" x="15" y="149.4" textLength="467"><tspan class="u">saveGame ( na...   String ,  ti...   int ,  moves: int ,  gameMov...   String ,  win: int ,  game...  int )</tspan> : GameD...</text>
<text class="t" x="3" y="164.4">+<tspan x="15"><tspan class="u">getLatestGa...   ( game...  int )</tspan> : GameD...</tspan></text>
<text class="t" x="3" y="179.4">+<tspan x="15"><tspan class="u">getPastGames ( )</tspan> : ArrayList&lt;GameDat...</tspan></text>
</g>
</svg>
